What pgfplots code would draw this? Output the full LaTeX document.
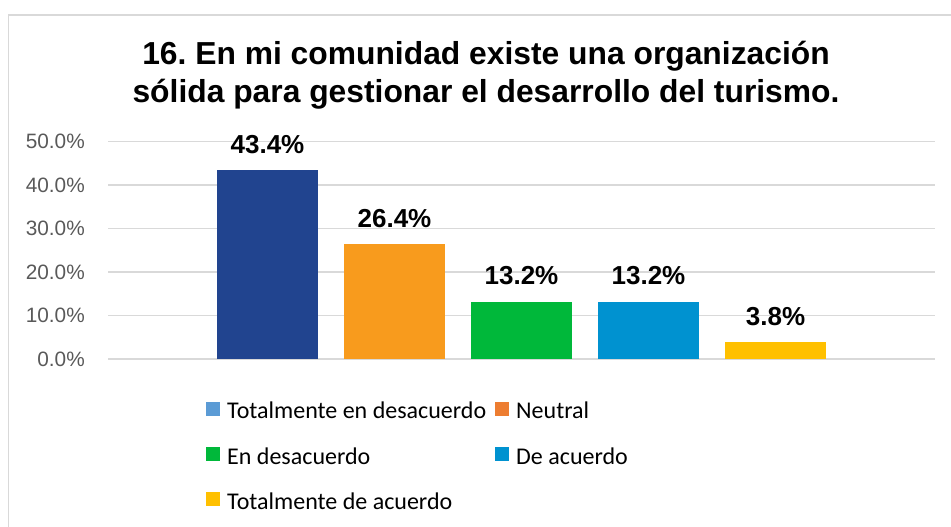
\documentclass[border=0pt]{standalone}
\usepackage{fontspec}
\setmainfont{Liberation Sans}
\newfontfamily\legfont{Carlito}
\usepackage{pgfplots}
\pgfplotsset{compat=1.18}
\definecolor{b1}{HTML}{21448F}
\definecolor{b2}{HTML}{F89B1D}
\definecolor{b3}{HTML}{00B83A}
\definecolor{b4}{HTML}{0092D0}
\definecolor{b5}{HTML}{FFC000}
\definecolor{l1}{HTML}{5B9BD5}
\definecolor{l2}{HTML}{ED7D31}
\definecolor{gridc}{HTML}{D9D9D9}
\definecolor{tickc}{HTML}{595959}
\pgfplotsset{
  vbar/.style={ybar, bar width=0.795, draw=none, fill=#1, forget plot,
    nodes near coords={\pgfmathprintnumber[fixed,fixed zerofill,precision=1,assume math mode=true]{\pgfplotspointmeta}\%},
    every node near coord/.append style={font=\bfseries\fontsize{26bp}{30bp}\selectfont, anchor=base, inner sep=0pt, yshift=17bp, text=black}},
  legsq/.style={legend image code/.code={\fill[##1, draw=none] (0bp,-6bp) rectangle (14bp,8bp);}},
}
\frenchspacing
\begin{document}
\begin{tikzpicture}
\path[use as bounding box] (0,0) rectangle (951bp,527bp);
\draw[gridc, line width=1.5bp] (8.5bp,0) -- (8.5bp,512bp) -- (951bp,512bp);
\begin{axis}[
  at={(108bp,168bp)}, anchor=south west,
  scale only axis, width=827bp, height=217.3bp,
  xmin=-1.256, xmax=5.256, ymin=0, ymax=50,
  xtick=\empty, ytick={0,10,20,30,40,50},
  axis line style={draw=none}, tick style={draw=none},
  ymajorgrids, grid style={gridc, line width=1.5bp},
  /pgf/number format/assume math mode=true,
  yticklabel={\pgfmathprintnumber[fixed,fixed zerofill,precision=1]{\tick}\%},
  y tick label style={font=\fontsize{20.8bp}{25bp}\selectfont, text=tickc, inner sep=0pt, xshift=-23bp},
  clip=false,
  legend columns=2,
  legend cell align=left,
  legend style={draw=none, fill=none, at={(rel axis cs:0.1185,-0.191)}, anchor=north west,
    font=\legfont\fontsize{24bp}{28bp}\selectfont, inner sep=0pt, row sep=27.3bp,
    nodes={inner sep=0pt, text height=18bp, text depth=0pt},
    /tikz/every odd column/.append style={column sep=7bp},
    /tikz/every even column/.append style={column sep=9bp}},
]
\addplot[vbar=b1] coordinates {(0,43.4)};
\addplot[vbar=b2] coordinates {(1,26.4)};
\addplot[vbar=b3] coordinates {(2,13.2)};
\addplot[vbar=b4] coordinates {(3,13.2)};
\addplot[vbar=b5] coordinates {(4,3.8)};
\addlegendimage{legsq, fill=l1}\addlegendentry{Totalmente en desacuerdo}
\addlegendimage{legsq, fill=l2}\addlegendentry{Neutral}
\addlegendimage{legsq, fill=b3}\addlegendentry{En desacuerdo}
\addlegendimage{legsq, fill=b4}\addlegendentry{De acuerdo}
\addlegendimage{legsq, fill=b5}\addlegendentry{Totalmente de acuerdo}
\end{axis}
\node[font=\bfseries\fontsize{31.8bp}{38bp}\selectfont, anchor=base] at (486bp,462.7bp) {16. En mi comunidad existe una organización};
\node[font=\bfseries\fontsize{31.8bp}{38bp}\selectfont, anchor=base] at (486bp,424.7bp) {sólida para gestionar el desarrollo del turismo.};
\end{tikzpicture}
\end{document}
